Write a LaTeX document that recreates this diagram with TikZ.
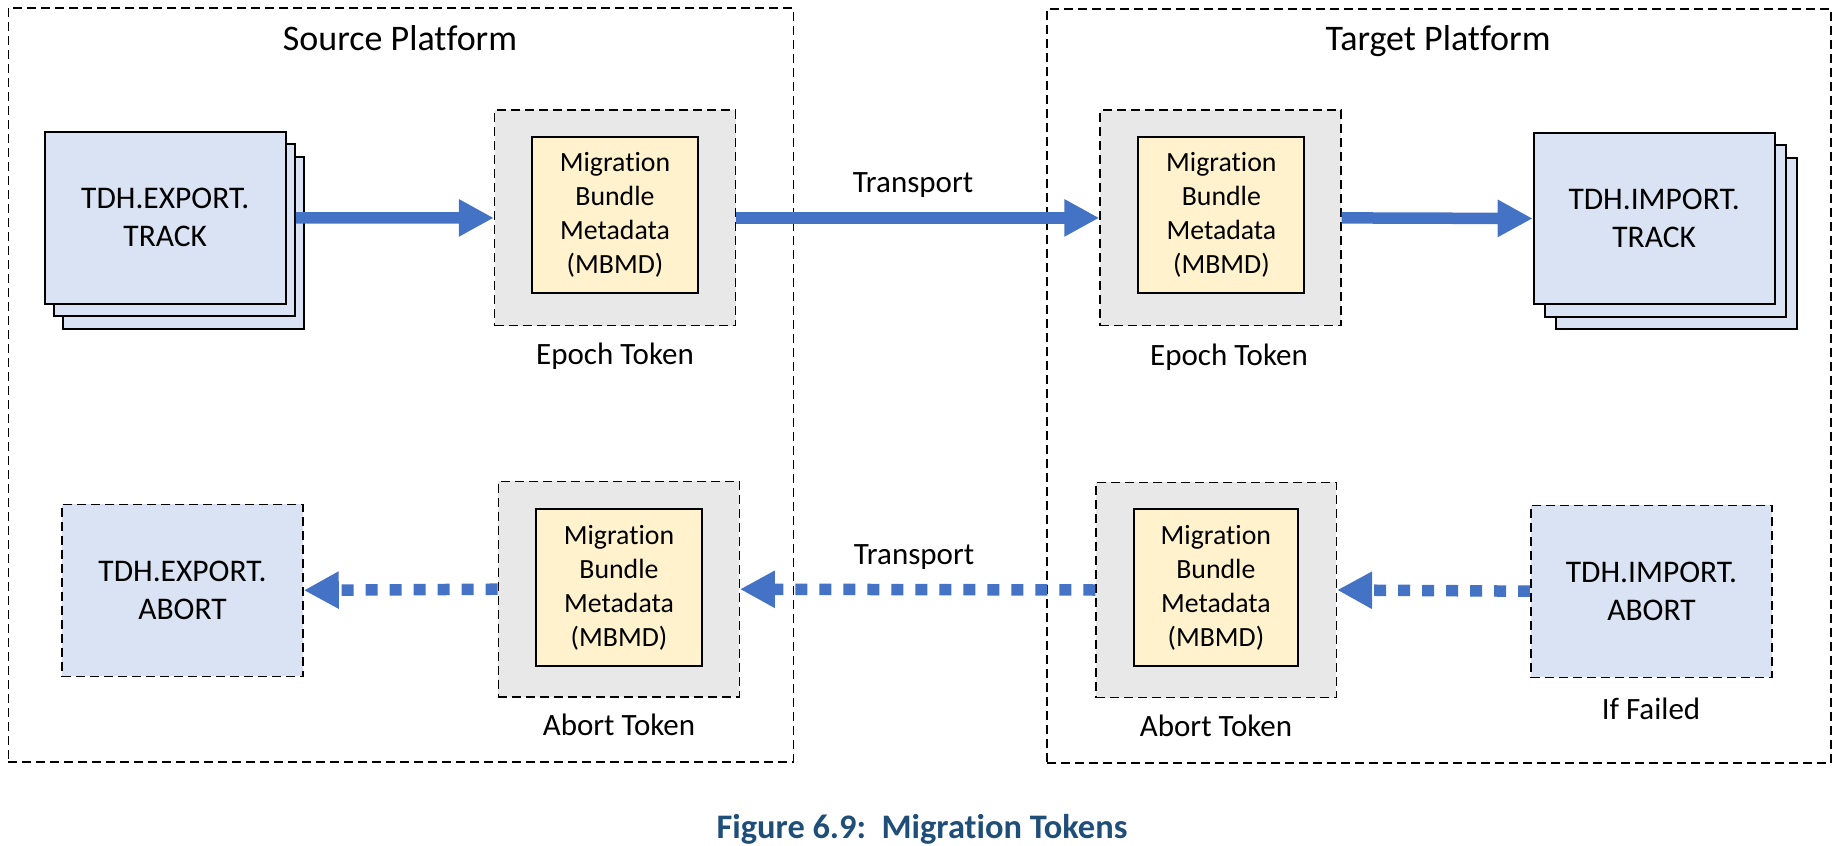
\documentclass[tikz,border=0pt]{standalone}
\usepackage{fontspec}
\setmainfont{Carlito}[Ligatures=NoCommon]
\usetikzlibrary{arrows.meta}
\definecolor{arrowblue}{HTML}{4472C4}
\definecolor{boxblue}{HTML}{DAE3F3}
\definecolor{tokgray}{HTML}{E8E8E8}
\definecolor{mbyellow}{HTML}{FFF2CC}
\definecolor{capblue}{HTML}{1F4E79}
\begin{document}
\begin{tikzpicture}[x=0.5pt,y=-0.5pt,
  platform/.style={draw, line width=0.7pt, dash pattern=on 4.5pt off 2.5pt, inner sep=0pt,
    minimum width=392.5pt, minimum height=377pt},
  stackbox/.style={draw, fill=boxblue, line width=1pt, inner sep=0pt,
    minimum width=120.6pt, minimum height=86pt, align=center,
    font=\fontsize{15.75}{19}\selectfont},
  abortbox/.style={stackbox, line width=0.7pt, dash pattern=on 4.5pt off 2.5pt},
  tokenbox/.style={draw, fill=tokgray, line width=0.7pt, dash pattern=on 4.5pt off 2.5pt,
    inner sep=0pt, minimum width=120.5pt, minimum height=107.75pt},
  mbmd/.style={draw, fill=mbyellow, line width=1pt, inner sep=0pt,
    minimum width=83pt, minimum height=78.35pt, align=center,
    font=\fontsize{13.9}{17}\selectfont},
  titletext/.style={anchor=base, inner sep=0pt, font=\fontsize{18}{21}\selectfont},
  labeltext/.style={anchor=base, inner sep=0pt, font=\fontsize{15.5}{19}\selectfont},
  flowarrow/.style={draw=arrowblue, line width=5.75pt, -{Triangle[length=17.5pt,width=17.5pt]}},
  abortarrow/.style={flowarrow, dash pattern=on 6pt off 6pt}
]
\useasboundingbox (0,0) rectangle (1843,846);

% platforms
\node[platform] (src) at (400.75,385) {};
\node[platform, minimum width=392pt] (tgt) at (1439,386) {};
\node[titletext] (srct) at (400,50) {Source Platform};
\node[titletext] (tgtt) at (1438,50) {Target Platform};

% export track stack
\node[stackbox] (exback) at (183.25,242.85) {};
\node[stackbox] (exmid) at (174.25,230.35) {};
\node[stackbox] (ex) at (165.25,217.85) {TDH.EXPORT.\\TRACK};

% import track stack
\node[stackbox, minimum width=120.5pt, minimum height=85.8pt] (imback) at (1676,243.6) {};
\node[stackbox, minimum width=120.5pt, minimum height=85.8pt] (immid) at (1665,231) {};
\node[stackbox, minimum width=120.5pt, minimum height=85.8pt] (im) at (1654.15,218.5) {TDH.IMPORT.\\TRACK};

% epoch tokens
\node[tokenbox] (srcep) at (615,217.9) {};
\node[mbmd] (srcepy) at (615,215) {Migration\\Bundle\\Metadata\\(MBMD)};
\node[labeltext] (srcepl) at (615,364) {Epoch Token};

\node[tokenbox] (tgtep) at (1220.5,217.9) {};
\node[mbmd] (tgtepy) at (1221.4,215) {Migration\\Bundle\\Metadata\\(MBMD)};
\node[labeltext] (tgtepl) at (1229,365) {Epoch Token};

% abort tokens
\node[tokenbox] (srcab) at (618.75,589.2) {};
\node[mbmd] (srcaby) at (619,587.4) {Migration\\Bundle\\Metadata\\(MBMD)};
\node[labeltext] (srcabl) at (619,735) {Abort Token};

\node[tokenbox, minimum width=120.2pt] (tgtab) at (1216.2,590) {};
\node[mbmd, minimum width=82.4pt] (tgtaby) at (1215.9,587.7) {Migration\\Bundle\\Metadata\\(MBMD)};
\node[labeltext] (tgtabl) at (1216,736) {Abort Token};

% abort boxes
\node[abortbox] (exab) at (182.5,590.3) {TDH.EXPORT.\\ABORT};
\node[abortbox] (imab) at (1651.5,591.2) {TDH.IMPORT.\\ABORT};
\node[labeltext] (iff) at (1651,719) {If Failed};

% transport labels
\node[labeltext] (tr1) at (913,192.3) {Transport};
\node[labeltext] (tr2) at (914,564) {Transport};

% arrows
\draw[flowarrow] (exmid.east |- ex.east) -- (srcep.west);
\draw[flowarrow] (srcep.east) -- (tgtep.west);
\draw[flowarrow] (tgtep.east) -- (im.west);
\draw[abortarrow] (imab.west) -- (tgtab.east);
\draw[abortarrow] (tgtab.west) -- (srcab.east);
\draw[abortarrow] (srcab.west) -- (exab.east);

% caption
\node[anchor=base, inner sep=0pt, text=capblue, font=\bfseries\fontsize{17.2}{20}\selectfont] (cap) at (922,838) {Figure 6.9:\ \ Migration Tokens};
\end{tikzpicture}
\end{document}
